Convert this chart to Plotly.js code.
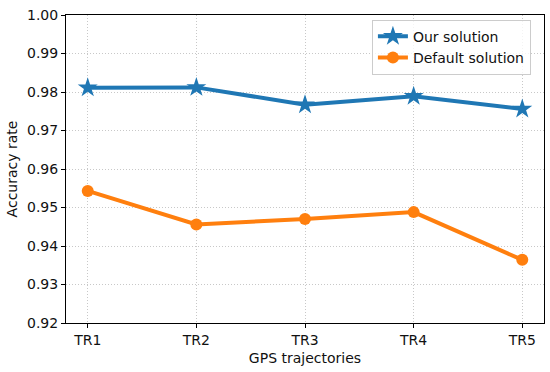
<!DOCTYPE html>
<html><head><meta charset="utf-8">
<script src="https://cdn.plot.ly/plotly-3.0.1.min.js"></script>
<style>html,body{margin:0;padding:0;background:#fff}#c{width:550px;height:372px}</style>
</head><body><div id="c"></div>
<script>
const categories = ["TR1","TR2","TR3","TR4","TR5"];
const ourSolution = [0.9811, 0.9812, 0.9767, 0.9789, 0.9756];
const defaultSolution = [0.9543, 0.9456, 0.9470, 0.9488, 0.9364];
const yTicks = [0.92,0.93,0.94,0.95,0.96,0.97,0.98,0.99,1.00];
const yTickText = ["0.92","0.93","0.94","0.95","0.96","0.97","0.98","0.99","1.00"];

const xIdx = categories.map((_, i) => i);
const font = {family: "DejaVu Sans", size: 14, color: "#111"};
const traces = [
  {x: xIdx, y: ourSolution, name: "Our solution", mode: "lines+markers",
   line: {color: "#1f77b4", width: 4}, marker: {symbol: "star", size: 15, color: "#1f77b4"}},
  {x: xIdx, y: defaultSolution, name: "Default solution", mode: "lines+markers",
   line: {color: "#ff7f0e", width: 4}, marker: {symbol: "circle", size: 12, color: "#ff7f0e"}}
];
const grid = {showgrid: true, gridcolor: "#c8c8c8", griddash: "1px,2px", gridwidth: 1};
const layout = {
  width: 550, height: 372,
  margin: {l: 66, r: 6, t: 15, b: 49},
  paper_bgcolor: "#fff", plot_bgcolor: "#fff",
  font: font,
  showlegend: true,
  legend: {x: 0.64, y: 0.985, xanchor: "left", yanchor: "top",
           bordercolor: "#cccccc", borderwidth: 1, bgcolor: "rgba(255,255,255,0.8)",
           font: {family: "DejaVu Sans", size: 14, color: "#111"}},
  xaxis: Object.assign({
    range: [-0.2, 4.2], tickmode: "array", tickvals: xIdx, ticktext: categories,
    showline: true, linecolor: "#000", linewidth: 1, mirror: true,
    ticks: "outside", ticklen: 4, tickcolor: "#000", zeroline: false,
    title: {text: "GPS trajectories", font: {family: "DejaVu Sans", size: 14}, standoff: 6}
  }, grid),
  yaxis: Object.assign({
    range: [0.92, 1.00], tickmode: "array", tickvals: yTicks, ticktext: yTickText,
    showline: true, linecolor: "#000", linewidth: 1, mirror: true,
    ticks: "outside", ticklen: 4, tickcolor: "#000", zeroline: false,
    title: {text: "Accuracy rate", font: {family: "DejaVu Sans", size: 14}, standoff: 6}
  }, grid)
};
Plotly.newPlot("c", traces, layout, {displayModeBar: false, staticPlot: true});
</script></body></html>
